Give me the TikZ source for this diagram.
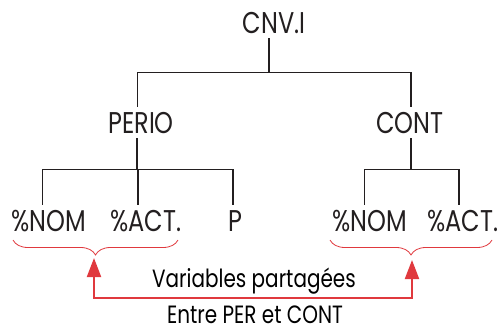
\documentclass[tikz,border=0pt]{standalone}
\usepackage{fontspec}
\setmainfont{Poppins}[FakeStretch=0.8]
\usepackage{xcolor}
\usetikzlibrary{calc,arrows.meta,decorations.pathreplacing}
\definecolor{redx}{HTML}{E0393E}
\definecolor{inkx}{HTML}{231F20}
\tikzset{
  lbl/.style={font=\fontsize{30}{32}\selectfont,text=inkx,inner xsep=0pt,inner ysep=5pt,anchor=base},
  note/.style={font=\fontsize{25}{27}\selectfont,text=black,inner sep=0pt,anchor=base},
  lnthin/.style={draw=inkx,line width=0.9pt},
  lnthick/.style={draw=inkx,line width=1.8pt},
  brc/.style={draw=redx,line width=0.8pt,decorate,decoration={brace,mirror,amplitude=15pt}},
  ar/.style={{Triangle[length=19pt,width=14pt]}-{Triangle[length=19pt,width=14pt]},line width=2pt,redx}
}
\begin{document}
\begin{tikzpicture}[x=1pt,y=-1pt]
\useasboundingbox (0,0) rectangle (499,332);
\node[lbl] (cnv) at (274,33) {CNV.I};
\node[lbl] (perio) at (141,133) {PERIO};
\node[lbl] (cont) at (410,133) {CONT};
\node[lbl] (nomA) at (49,231) {\%NOM};
\node[lbl] (actA) at (146,231) {\%ACT.};
\node[lbl] (pp) at (235,231) {P};
\node[lbl] (nomB) at (370,231) {\%NOM};
\node[lbl] (actB) at (463,231) {\%ACT.};
\node[note] (shared) at (254,287) {Variables partagées};
\node[note] (between) at (255,323) {Entre PER et CONT};
\coordinate (top) at (269,72);
\coordinate (midA) at (137,169);
\coordinate (midB) at (411,169);
\draw[lnthick] (top |- cnv.south) -- (top);
\draw[lnthin] (top -| midA) -- (top -| midB);
\draw[lnthin] (top -| midA) -- (midA |- perio.north);
\draw[lnthick] (top -| midB) -- (midB |- cont.north);
\draw[lnthick] (midA |- perio.south) -- (midA);
\draw[lnthick] (midB |- cont.south) -- (midB);
\draw[lnthin] (midA -| 42,0) -- (midA -| 233,0);
\draw[lnthin] (midB -| 364,0) -- (midB -| 459,0);
\draw[lnthin] (midA -| 42,0) -- (42,0 |- nomA.north);
\draw[lnthick] (midA -| 138,0) -- (138,0 |- actA.north);
\draw[lnthick] (midA -| 233,0) -- (233,0 |- pp.north);
\draw[lnthin] (midB -| 364,0) -- (364,0 |- nomB.north);
\draw[lnthick] (midB -| 459,0) -- (459,0 |- actB.north);
\draw[brc] (13,240) -- (178,240);
\draw[brc] (330,240) -- (492,240);
\coordinate (tipA) at (94,258);
\coordinate (tipB) at (412,260);
\coordinate (low) at (250,298);
\draw[ar] (tipA) |- (low) -| (tipB);
\end{tikzpicture}
\end{document}
